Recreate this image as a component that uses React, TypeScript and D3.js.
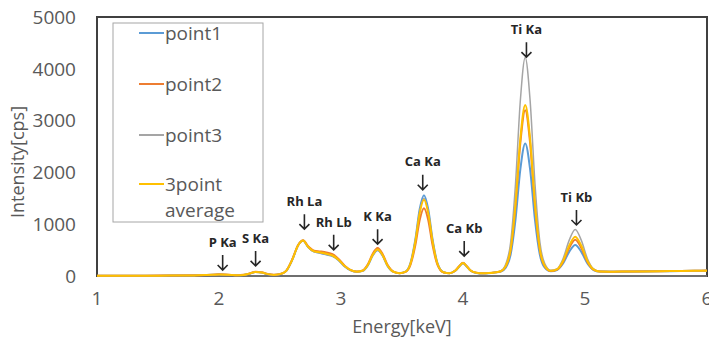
import React from "react";
import * as d3 from "d3";

const energy = [
  1.0, 1.2, 1.4, 1.6, 1.8, 1.9, 1.95, 2.0, 2.05, 2.1,
  2.15, 2.2, 2.25, 2.3, 2.35, 2.4, 2.45, 2.5, 2.55, 2.6,
  2.65, 2.69, 2.73, 2.78, 2.83, 2.88, 2.93, 2.98, 3.03, 3.08,
  3.13, 3.18, 3.22, 3.26, 3.3, 3.34, 3.38, 3.43, 3.48, 3.53,
  3.57, 3.61, 3.645, 3.68, 3.715, 3.75, 3.79, 3.84, 3.89, 3.94,
  3.97, 4.0, 4.03, 4.06, 4.11, 4.16, 4.21, 4.26, 4.31, 4.35,
  4.39, 4.43, 4.47, 4.51, 4.55, 4.59, 4.63, 4.67, 4.72, 4.77,
  4.82, 4.87, 4.92, 4.97, 5.02, 5.07, 5.12, 5.2, 5.3, 5.5,
  5.7, 5.9, 6.0,
];

const point1 = [
  5, 5, 5, 8, 12, 18, 22, 28, 25, 18,
  14, 20, 45, 75, 65, 35, 20, 35, 95, 310,
  600, 680, 560, 470, 445, 415, 385, 305, 185, 110,
  82, 100, 205, 395, 495, 395, 200, 80, 55, 86,
  254, 714, 1288, 1560, 1288, 714, 254, 73, 55, 105,
  185, 245, 185, 108, 60, 50, 55, 68, 85, 160,
  410, 1085, 2060, 2560, 2060, 1085, 410, 160, 90, 116,
  241, 465, 600, 465, 241, 116, 85, 82, 84, 88,
  94, 100, 102,
];

const point2 = [
  6, 6, 6, 9, 13, 20, 25, 32, 28, 20,
  15, 22, 50, 82, 72, 38, 22, 38, 100, 320,
  605, 690, 575, 490, 475, 455, 420, 330, 200, 115,
  85, 110, 225, 430, 540, 430, 220, 85, 55, 80,
  220, 600, 1083, 1310, 1083, 600, 220, 69, 55, 112,
  195, 258, 195, 112, 62, 52, 56, 70, 91, 186,
  500, 1347, 2570, 3200, 2570, 1350, 500, 190, 95, 123,
  272, 539, 700, 539, 272, 123, 86, 84, 86, 90,
  96, 102, 104,
];

const point3 = [
  5, 5, 5, 8, 12, 18, 22, 28, 25, 18,
  14, 20, 45, 78, 68, 36, 20, 35, 95, 305,
  595, 685, 560, 465, 445, 418, 388, 308, 188, 110,
  83, 104, 210, 400, 500, 400, 205, 80, 55, 85,
  246, 688, 1239, 1500, 1239, 688, 246, 72, 55, 110,
  190, 250, 190, 110, 60, 50, 56, 70, 100, 226,
  642, 1766, 3388, 4220, 3390, 1780, 660, 240, 110, 137,
  334, 687, 900, 687, 334, 137, 88, 85, 87, 90,
  96, 102, 104,
];

const average = [
  5, 5, 5, 8, 12, 19, 23, 29, 26, 19,
  14, 21, 47, 78, 68, 36, 21, 36, 97, 312,
  600, 685, 565, 475, 455, 428, 396, 314, 191, 112,
  83, 105, 213, 408, 512, 408, 208, 82, 55, 84,
  242, 675, 1214, 1470, 1214, 675, 242, 72, 55, 110,
  190, 251, 190, 110, 61, 51, 56, 69, 92, 190,
  514, 1388, 2650, 3300, 2650, 1390, 520, 200, 100, 128,
  291, 583, 760, 583, 291, 128, 86, 84, 86, 89,
  95, 101, 103,
];

const seriesNames = ["point1", "point2", "point3", "3point average"];
const seriesColors = ["#5B9BD5", "#ED7D31", "#A5A5A5", "#FFC000"];
const seriesValues = [point1, point2, point3, average];

const xTicks = [1, 2, 3, 4, 5, 6];
const yTicks = [0, 1000, 2000, 3000, 4000, 5000];

const peakLabels = ["P Ka", "S Ka", "Rh La", "Rh Lb", "K Ka", "Ca Ka", "Ca Kb", "Ti Ka", "Ti Kb"];
const peakEnergy = [2.03, 2.3, 2.7, 2.94, 3.3, 3.67, 4.01, 4.52, 4.93];
const peakArrowCps = [250, 330, 1040, 640, 750, 1800, 520, 4360, 1120];

const W = 709;
const H = 343;
const FONT = "'Open Sans', 'DejaVu Sans', sans-serif";

export default function App() {
  const x = d3.scaleLinear().domain([1, 6]).range([97, 707]);
  const y = d3.scaleLinear().domain([0, 5000]).range([276, 17]);

  const line = d3
    .line<number>()
    .x((_, i) => x(energy[i]))
    .y((d) => y(d))
    .curve(d3.curveMonotoneX);

  const legendY = [33, 84, 135, 184];

  return (
    <svg
      width={W}
      height={H}
      style={{ position: "absolute", left: 0, top: 0, background: "#fff" }}
      fontFamily={FONT}
    >
      <rect x={0} y={0} width={W} height={H} fill="#fff" />
      {/* plot frame */}
      <rect
        x={x(1)}
        y={y(5000)}
        width={x(6) - x(1)}
        height={y(0) - y(5000)}
        fill="none"
        stroke="#404040"
        strokeWidth={2}
      />
      <line x1={x(1)} x2={x(6)} y1={y(0)} y2={y(0)} stroke="#7f7f7f" strokeWidth={1.5} />

      {/* series */}
      {seriesValues.map((vals, si) => (
        <path
          key={si}
          d={line(vals) || ""}
          fill="none"
          stroke={seriesColors[si]}
          strokeWidth={si === 2 ? 1.5 : 2}
          strokeLinejoin="round"
        />
      ))}

      {/* y ticks */}
      {yTicks.map((t) => (
        <text
          key={t}
          x={76}
          y={y(t)}
          dy="0.36em"
          textAnchor="end"
          fontSize={19}
          fill="#595959"
        >
          {t}
        </text>
      ))}
      {/* x ticks */}
      {xTicks.map((t) => (
        <text
          key={t}
          x={x(t)}
          y={298}
          dy="0.36em"
          textAnchor="middle"
          fontSize={19}
          fill="#595959"
        >
          {t}
        </text>
      ))}

      <text x={402} y={327} dy="0.36em" textAnchor="middle" fontSize={18} fill="#595959">
        Energy[keV]
      </text>
      <text
        transform={`translate(18,162) rotate(-90)`}
        dy="0.36em"
        textAnchor="middle"
        fontSize={18}
        fill="#595959"
      >
        Intensity[cps]
      </text>

      {/* peak annotations */}
      {peakLabels.map((lab, i) => {
        const px = x(peakEnergy[i]);
        const py = y(peakArrowCps[i]);
        return (
          <g key={lab}>
            <text
              x={px}
              y={py - 21}
              dy="0.36em"
              textAnchor="middle"
              fontSize={13}
              fontWeight="bold"
              fill="#262626"
            >
              {lab}
            </text>
            <path
              d={`M${px},${py - 8}L${px},${py + 7}M${px - 5},${py + 2}L${px},${py + 7}L${px + 5},${py + 2}`}
              fill="none"
              stroke="#262626"
              strokeWidth={1.6}
            />
          </g>
        );
      })}

      {/* legend */}
      <rect x={113} y={23} width={150} height={199} fill="#fff" stroke="#a6a6a6" strokeWidth={1} />
      {seriesNames.map((n, i) => (
        <g key={n}>
          <line x1={139} x2={164} y1={legendY[i]} y2={legendY[i]} stroke={seriesColors[i]} strokeWidth={2} />
          {i < 3 ? (
            <text x={165} y={legendY[i]} dy="0.36em" fontSize={19} fill="#595959">
              {n}
            </text>
          ) : (
            <text x={165} y={legendY[i]} dy="0.36em" fontSize={19} fill="#595959">
              <tspan x={165}>3point</tspan>
              <tspan x={165} dy="1.4em">average</tspan>
            </text>
          )}
        </g>
      ))}
    </svg>
  );
}
